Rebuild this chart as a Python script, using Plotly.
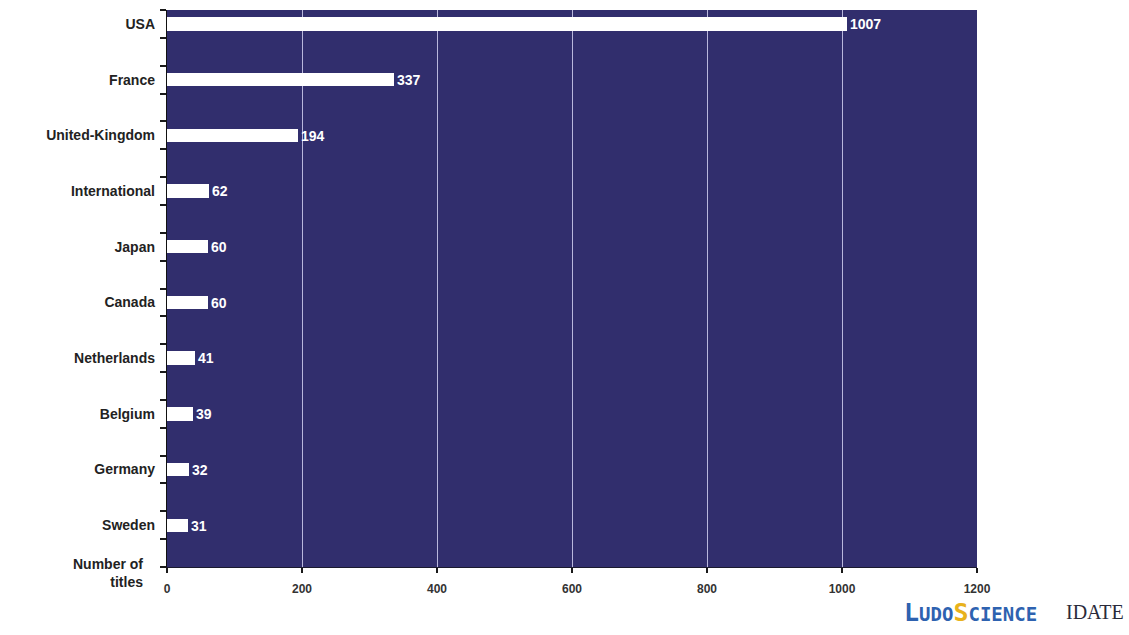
import plotly.graph_objects as go

countries = ["USA", "France", "United-Kingdom", "International", "Japan",
             "Canada", "Netherlands", "Belgium", "Germany", "Sweden"]
titles = [1007, 337, 194, 62, 60, 60, 41, 39, 32, 31]
x_ticks = [0, 200, 400, 600, 800, 1000, 1200]

positions = list(range(len(countries)))
y_range = [len(countries) - 0.25, -0.25]
# category separators: tick marks every half band along the left axis
separators = [-0.25 + 0.5 * k for k in range(2 * len(countries) + 1)]

fig = go.Figure()
fig.add_trace(go.Bar(
    x=titles,
    y=positions,
    orientation="h",
    width=0.24,
    marker=dict(color="#FFFFFF", line=dict(width=0)),
    text=[str(v) for v in titles],
    textposition="outside",
    textfont=dict(family="Liberation Sans", size=14, color="#FFFFFF"),
    outsidetextfont=dict(family="Liberation Sans", size=14, color="#FFFFFF"),
    texttemplate="<b>%{text}</b>",
    cliponaxis=False,
    hoverinfo="skip",
))
# invisible trace that carries the category label axis
fig.add_trace(go.Scatter(x=[0], y=[0], xaxis="x", yaxis="y2", mode="markers",
                         marker=dict(size=1, opacity=0),
                         showlegend=False, hoverinfo="skip"))

fig.update_layout(
    template="none",
    width=1129, height=635,
    margin=dict(l=167, r=152, t=10, b=68),
    paper_bgcolor="#FFFFFF",
    plot_bgcolor="#312E6D",
    showlegend=False,
    bargap=0,
    uniformtext=dict(minsize=14, mode="show"),
    font=dict(family="Liberation Sans", color="#222222"),
    yaxis=dict(
        range=y_range,
        tickmode="array",
        tickvals=separators, ticktext=[""] * len(separators),
        ticks="outside", ticklen=6, tickcolor="#1A1A1A", tickwidth=2,
        showgrid=False, zeroline=False,
        showline=True, linecolor="#111111", linewidth=1,
        fixedrange=True,
    ),
    yaxis2=dict(
        overlaying="y", anchor="x", side="left", range=y_range,
        tickmode="array",
        tickvals=positions,
        ticktext=[f"<b>{c}</b>" for c in countries],
        tickfont=dict(size=14, color="#222222"),
        ticks="", ticklabelstandoff=11,
        showgrid=False, zeroline=False, showline=False, fixedrange=True,
    ),
)

fig.update_xaxes(
    range=[0, 1200],
    tickvals=x_ticks,
    ticktext=[f"<b>{v}</b>" for v in x_ticks],
    tickfont=dict(size=12, color="#333333"),
    ticklabelstandoff=6,
    showgrid=True, gridcolor="#B9B7DC", gridwidth=1,
    zeroline=False,
    showline=True, linecolor="#1A1A2E", linewidth=1,
    ticks="outside", ticklen=5, tickcolor="#1A1A1A", tickwidth=2,
    fixedrange=True,
)

# Axis title placed beside the first x tick label
fig.add_annotation(
    x=0, y=0, xref="paper", yref="paper",
    xanchor="right", yanchor="top", xshift=-22, yshift=13,
    text="<b>Number of<br>titles</b>", align="right", showarrow=False,
    font=dict(family="Liberation Sans", size=14, color="#222222"),
)

# Source logos
fig.add_annotation(
    x=(902 - 167) / 810, y=(567 - 612) / 557, xref="paper", yref="paper",
    xanchor="left", yanchor="middle", showarrow=False,
    text=("<b><span style='color:#2E62B0'>L</span>"
          "<span style='color:#2E62B0;font-size:19px'>UDO</span>"
          "<span style='color:#E8B21C'>S</span>"
          "<span style='color:#2E62B0;font-size:19px'>CIENCE</span></b>"),
    font=dict(family="DejaVu Sans Mono", size=25, color="#2E62B0"),
)
fig.add_annotation(
    x=(1126 - 167) / 810, y=(567 - 612) / 557, xref="paper", yref="paper",
    xanchor="right", yanchor="middle", showarrow=False,
    text="IDATE",
    font=dict(family="Liberation Serif", size=20, color="#2A2A3A"),
)

fig.write_html("out.html")
